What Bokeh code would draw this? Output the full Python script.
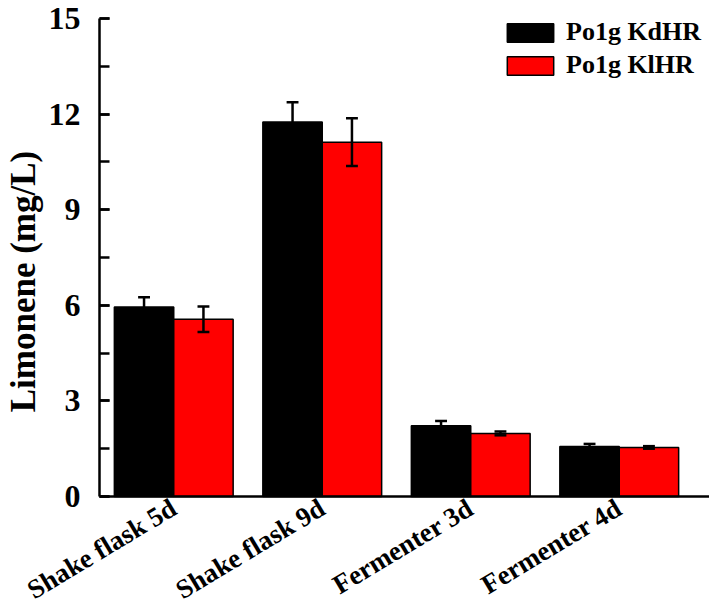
import math
from bokeh.plotting import figure
from bokeh.models import (Range1d, ColumnDataSource, SingleIntervalTicker, FixedTicker,
                          Legend, LegendItem)
from bokeh.transform import dodge
from bokeh.embed import file_html
from bokeh.resources import INLINE

categories = ["Shake flask 5d", "Shake flask 9d", "Fermenter 3d", "Fermenter 4d"]
kdhr = [5.95, 11.75, 2.22, 1.57]
kdhr_err = [0.30, 0.62, 0.15, 0.08]
klhr = [5.56, 11.12, 1.98, 1.54]
klhr_err = [0.40, 0.75, 0.06, 0.04]
series_names = ["Po1g KdHR", "Po1g KlHR"]
series_colors = ["#000000", "#ff0000"]
y_label = "Limonene (mg/L)"
y_max = 15

FONT = "Liberation Serif"

# ---- layout in pixels: the plotting frame covers the whole canvas ----
WIDTH, HEIGHT = 709, 609
AX_LEFT, AX_RIGHT = 99, 693      # x extent of the category area
AX_TOP, AX_BOTTOM = 18, 496      # pixel rows of y = y_max and y = 0
n = len(categories)
px_x = (AX_RIGHT - AX_LEFT) / n
px_y = (AX_BOTTOM - AX_TOP) / y_max
x_start, x_end = -AX_LEFT / px_x, n + (WIDTH - AX_RIGHT) / px_x
y_start, y_end = -(HEIGHT - AX_BOTTOM) / px_y, y_max + AX_TOP / px_y

def xd(px):
    return (px - AX_LEFT) / px_x

def yd(py):
    return (AX_BOTTOM - py) / px_y

xc = [i + 0.5 for i in range(n)]   # category centres

src = ColumnDataSource(data=dict(
    xc=xc, cat=categories,
    kd=kdhr, kd_lo=[v - e for v, e in zip(kdhr, kdhr_err)], kd_hi=[v + e for v, e in zip(kdhr, kdhr_err)],
    kl=klhr, kl_lo=[v - e for v, e in zip(klhr, klhr_err)], kl_hi=[v + e for v, e in zip(klhr, klhr_err)],
))

p = figure(x_range=Range1d(x_start, x_end), y_range=Range1d(y_start, y_end),
           width=WIDTH, height=HEIGHT, output_backend="svg", toolbar_location=None,
           min_border_left=0, min_border_right=0, min_border_top=0, min_border_bottom=0)
p.outline_line_color = None
p.xgrid.visible = False
p.ygrid.visible = False
p.background_fill_color = "white"

W = 0.4
r_kd = p.vbar(x=dodge("xc", -W / 2), top="kd", width=W, source=src,
              fill_color=series_colors[0], line_color="black", line_width=1.5)
r_kl = p.vbar(x=dodge("xc", W / 2), top="kl", width=W, source=src,
              fill_color=series_colors[1], line_color="black", line_width=1.5)

cap = 0.04
for off, lo, hi in [(-W / 2, "kd_lo", "kd_hi"), (W / 2, "kl_lo", "kl_hi")]:
    p.segment(x0=dodge("xc", off), y0=lo, x1=dodge("xc", off), y1=hi,
              source=src, line_color="black", line_width=2.5)
    for end in (lo, hi):
        p.segment(x0=dodge("xc", off - cap), y0=end, x1=dodge("xc", off + cap), y1=end,
                  source=src, line_color="black", line_width=2.5)

# x axis: line at y = 0, category names as rotated tick labels
xa = p.xaxis[0]
xa.fixed_location = 0
xa.bounds = (0, x_end)
xa.ticker = FixedTicker(ticks=xc, minor_ticks=[])
xa.major_label_overrides = {x: c for x, c in zip(xc, categories)}
xa.axis_line_width = 2.5
xa.axis_line_color = "black"
xa.major_tick_line_color = None
xa.minor_tick_line_color = None
xa.major_tick_in = 0
xa.major_tick_out = 0
xa.major_label_text_font = FONT
xa.major_label_text_font_style = "bold"
xa.major_label_text_font_size = "27px"
xa.major_label_text_color = "black"
xa.major_label_orientation = math.radians(31)
xa.major_label_standoff = 9

# y axis
ya = p.yaxis[0]
ya.fixed_location = 0
ya.bounds = (0, y_max)
ya.ticker = SingleIntervalTicker(interval=3, num_minor_ticks=2)
ya.major_label_text_font = FONT
ya.major_label_text_font_style = "bold"
ya.major_label_text_font_size = "32px"
ya.major_label_text_color = "black"
ya.major_label_standoff = 19
ya.axis_line_width = 2.5
ya.axis_line_color = "black"
ya.major_tick_in = 10
ya.major_tick_out = 0
ya.minor_tick_in = 10
ya.minor_tick_out = 0
ya.major_tick_line_width = 2.5
ya.minor_tick_line_width = 2.5
ya.major_tick_line_color = "black"
ya.minor_tick_line_color = "black"

# y axis title
p.text(x=[xd(23)], y=[yd(281)], text=[y_label], angle=math.pi / 2,
       text_align="center", text_baseline="alphabetic",
       text_font={"value": FONT}, text_font_style="bold", text_font_size="35px",
       text_color="black")

legend = Legend(items=[LegendItem(label=series_names[0], renderers=[r_kd]),
                       LegendItem(label=series_names[1], renderers=[r_kl])],
                location=(501, HEIGHT - 80), orientation="vertical",
                glyph_width=58, glyph_height=23, label_height=23, spacing=3,
                label_standoff=7, padding=0, margin=0,
                label_text_font=FONT, label_text_font_style="bold",
                label_text_font_size="26px", label_text_color="black",
                background_fill_alpha=0, border_line_color=None)
p.add_layout(legend)

open("out.html", "w").write(file_html(p, INLINE))
